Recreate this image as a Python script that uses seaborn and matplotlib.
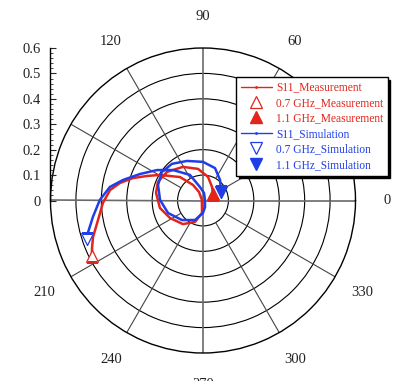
import numpy as np
import matplotlib
matplotlib.use("Agg")
import matplotlib.pyplot as plt
from matplotlib.lines import Line2D
from matplotlib.ticker import MultipleLocator
import seaborn as sns

sns.set_theme(style="white")
plt.rcParams["font.family"] = ["Liberation Serif", "DejaVu Serif"]

# ------------------------------------------------------------
# data
# ------------------------------------------------------------
meas_theta = [206.6, 203.2, 198.4, 190.5, 181.4, 173.6, 168.1, 162.2, 156.4, 149.3,
              134.4, 122.8, 115.2, 150.0, 261.0, 265.4, 249.6, 229.6, 207.9, 189.9,
              170.9, 157.7, 141.6, 120.8, 99.0, 78.0, 56.3, 33.0]
meas_r = [0.489, 0.475, 0.456, 0.420, 0.394, 0.368, 0.334, 0.289, 0.241, 0.197,
          0.129, 0.073, 0.037, 0.005, 0.026, 0.049, 0.090, 0.122, 0.147, 0.172,
          0.187, 0.192, 0.181, 0.154, 0.126, 0.095, 0.064, 0.047]

sim_theta = [198.4, 195.8, 188.5, 179.7, 171.7, 165.6, 157.2, 146.5, 134.5, 117.0,
             102.5, 82.4, 14.0, 287.0, 270.0, 247.7, 222.9, 199.7, 179.3, 161.0,
             145.2, 130.3, 112.1, 90.0, 69.7, 50.3, 25.3]
sim_r = [0.481, 0.471, 0.438, 0.406, 0.370, 0.325, 0.269, 0.217, 0.168, 0.113,
         0.054, 0.030, 0.008, 0.027, 0.049, 0.083, 0.113, 0.146, 0.169, 0.187,
         0.197, 0.189, 0.168, 0.152, 0.136, 0.105, 0.078]

angle_labels = [0, 60, 90, 120, 210, 240, 270, 300, 330]
radial_ticks = [0, 0.1, 0.2, 0.3, 0.4, 0.5, 0.6]
radial_labels = ["0", "0.1", "0.2", "0.3", "0.4", "0.5", "0.6"]

RED = "#e3241b"
BLUE = "#1f3ee8"

# ------------------------------------------------------------
# figure
# ------------------------------------------------------------
fig = plt.figure(figsize=(3.95, 3.81), dpi=100)
ax = fig.add_axes([50.5 / 395, 28 / 381, 305 / 395, 305 / 381], projection="polar")
ax.set_ylim(0, 0.6)

# rings
ax.set_yticks(radial_ticks[1:-1])
ax.set_yticklabels([])
ax.set_xticks([])
ax.yaxis.grid(True, color="black", lw=0.8)
ax.xaxis.grid(False)
ax.spines["polar"].set_color("black")
ax.spines["polar"].set_linewidth(1.0)

# spokes (start at the first ring, except the main axes)
for a in range(0, 360, 30):
    if a % 90 == 0:
        ax.plot([np.deg2rad(a)] * 2, [0, 0.6], color="#6a6a6a", lw=1.2, zorder=1)
    else:
        ax.plot([np.deg2rad(a)] * 2, [0.1, 0.6], color="#444444", lw=0.8, zorder=1)

# curves
sns.lineplot(x=np.deg2rad(meas_theta), y=meas_r, sort=False, estimator=None,
             color=RED, lw=1.8, ax=ax, zorder=3)
sns.lineplot(x=np.deg2rad(sim_theta), y=sim_r, sort=False, estimator=None,
             color=BLUE, lw=1.8, ax=ax, zorder=4)

# frequency markers: first point = 0.7 GHz, last point = 1.1 GHz
ax.plot(np.deg2rad(meas_theta[0]), meas_r[0], marker="^", ms=8, mfc="white",
        mec=RED, mew=0.9, ls="none", zorder=5)
ax.plot(np.deg2rad(meas_theta[-1]), meas_r[-1], marker="^", ms=8, color=RED,
        ls="none", zorder=5)
ax.plot(np.deg2rad(sim_theta[0]), sim_r[0], marker="v", ms=8, mfc="white",
        mec=BLUE, mew=0.9, ls="none", zorder=5)
ax.plot(np.deg2rad(sim_theta[-1]), sim_r[-1], marker="v", ms=8, color=BLUE,
        ls="none", zorder=5)
ax.set_xlabel("")
ax.set_ylabel("")

# angle labels
for a in angle_labels:
    ax.text(np.deg2rad(a), 0.723, str(a), ha="center", va="center",
            fontsize=10.5, color="#222222", clip_on=False, zorder=1)

# radial axis on the left
rax = fig.add_axes([50.5 / 395, 180.5 / 381, 0.0005, 152.5 / 381])
rax.set_ylim(0, 0.6)
rax.patch.set_visible(False)
for s in ["top", "right", "bottom"]:
    rax.spines[s].set_visible(False)
rax.spines["left"].set_color("black")
rax.spines["left"].set_linewidth(1.0)
rax.set_xticks([])
rax.set_yticks(radial_ticks)
rax.set_yticklabels(radial_labels, fontsize=10.5, color="#222222")
rax.yaxis.set_minor_locator(MultipleLocator(0.02))
rax.tick_params(axis="y", which="major", direction="in", length=4, width=0.8,
                left=True, pad=7)
rax.tick_params(axis="y", which="minor", direction="in", length=2.5, width=0.6,
                left=True)

# legend
handles = [
    Line2D([], [], color=RED, lw=1.0, marker=".", ms=2),
    Line2D([], [], color=RED, ls="none", marker="^", ms=8, mfc="white", mew=0.9),
    Line2D([], [], color=RED, ls="none", marker="^", ms=8),
    Line2D([], [], color=BLUE, lw=1.0, marker=".", ms=2),
    Line2D([], [], color=BLUE, ls="none", marker="v", ms=8, mfc="white", mew=0.9),
    Line2D([], [], color=BLUE, ls="none", marker="v", ms=8),
]
labels = ["S11_Measurement", "0.7 GHz_Measurement", "1.1 GHz_Measurement",
          "S11_Simulation", "0.7 GHz_Simulation", "1.1 GHz_Simulation"]
leg = fig.legend(handles, labels, loc="upper left",
                 bbox_to_anchor=(236 / 395, 1 - 77 / 381),
                 bbox_transform=fig.transFigure, borderaxespad=0,
                 fontsize=8.3, frameon=True, fancybox=False,
                 shadow={"color": "black", "alpha": 1.0},
                 handlelength=2.7, handletextpad=0.35, labelspacing=0.3,
                 borderpad=0.4)
leg.get_frame().set_edgecolor("black")
leg.get_frame().set_linewidth(1.0)
for t, c in zip(leg.get_texts(), [RED] * 3 + [BLUE] * 3):
    t.set_color(c)
leg.set_zorder(10)

plt.savefig("out.png", dpi=100)
plt.close()
